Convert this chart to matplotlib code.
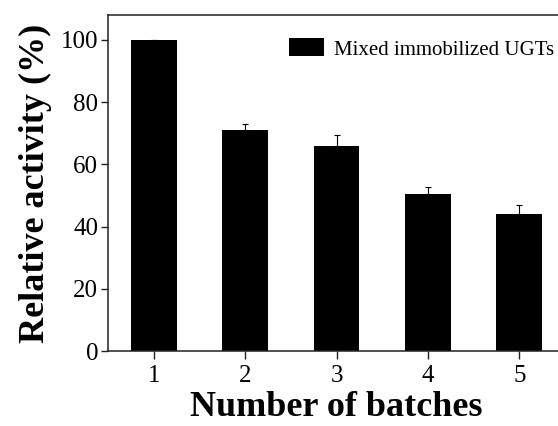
import matplotlib
matplotlib.use('Agg')
import matplotlib.pyplot as plt

# data
batches = [1, 2, 3, 4, 5]
activity = [100, 71, 66, 50.5, 44]
errors = [0, 2, 3.3, 2.2, 2.8]

plt.rcParams['font.family'] = ['Liberation Serif', 'DejaVu Serif']

fig = plt.figure(figsize=(5.58, 4.26), dpi=100)
# axes run a little past the right edge, as in the cropped original
ax = fig.add_axes([108 / 558, 75 / 426, 457 / 558, 336 / 426])

ax.bar(batches, activity, width=0.5, color='black', label='Mixed immobilized UGTs')
ax.errorbar(batches, activity, yerr=[[0] * 5, errors], fmt='none',
            ecolor='black', elinewidth=0.8, capsize=2, capthick=0.8)

ax.set_xlim(0.5, 5.5)
ax.set_ylim(0, 108)
ax.set_xticks(batches)
ax.set_yticks([0, 20, 40, 60, 80, 100])

ax.tick_params(axis='both', labelsize=18, direction='out', width=1, colors='#222222',
               labelcolor='black')
ax.tick_params(axis='y', length=5, pad=2)
ax.tick_params(axis='x', length=6, pad=4)
for s in ax.spines.values():
    s.set_linewidth(1.1)
    s.set_color('#222222')

ax.set_xlabel('Number of batches', fontsize=26, fontweight='bold', labelpad=3)
ax.set_ylabel('Relative activity (%)', fontsize=26, fontweight='bold', labelpad=6)

ax.legend(loc='upper left', bbox_to_anchor=(0.378, 0.955), frameon=False, fontsize=15,
          handlelength=1.7, handleheight=0.95, handletextpad=0.45, borderaxespad=0)

fig.savefig('out.png', dpi=100)
